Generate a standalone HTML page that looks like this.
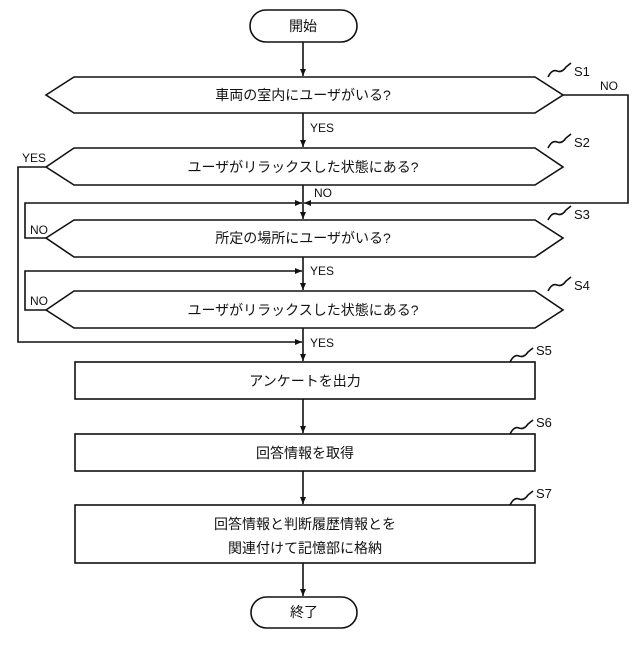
<!DOCTYPE html>
<html><head><meta charset="utf-8"><style>
html,body{margin:0;padding:0;background:#fff}
svg text{font-family:"Liberation Sans","Noto Sans CJK JP",sans-serif;fill:#111}
</style></head><body>
<svg width="640" height="640" viewBox="0 0 640 640" xmlns="http://www.w3.org/2000/svg">
<defs><marker id="a" markerWidth="8" markerHeight="8" refX="7" refY="4" orient="auto" markerUnits="userSpaceOnUse"><path d="M0,1 L7,4 L0,7 z" fill="#111"/></marker></defs>
<g fill="none" stroke="#111" stroke-width="1.6">
<rect x="250" y="10" width="107" height="32" rx="16"/>
<rect x="251" y="597" width="106" height="31" rx="15.5"/>
<polygon points="46,95 74,77 535,77 563,95 535,113 74,113" fill="#fff"/>
<polygon points="46,167 74,148 535,148 563,167 535,185 74,185" fill="#fff"/>
<polygon points="46,238 74,220 535,220 563,238 535,257 74,257" fill="#fff"/>
<polygon points="46,310 74,291 535,291 563,310 535,328 74,328" fill="#fff"/>
<rect x="75" y="362" width="460" height="37"/>
<rect x="75" y="434" width="460" height="37"/>
<rect x="75" y="505" width="460" height="58"/>
<line x1="303" y1="42" x2="303" y2="76" marker-end="url(#a)"/>
<line x1="303" y1="113" x2="303" y2="147" marker-end="url(#a)"/>
<line x1="303" y1="185" x2="303" y2="219" marker-end="url(#a)"/>
<line x1="303" y1="257" x2="303" y2="290" marker-end="url(#a)"/>
<line x1="303" y1="328" x2="303" y2="361" marker-end="url(#a)"/>
<line x1="303" y1="399" x2="303" y2="433" marker-end="url(#a)"/>
<line x1="303" y1="471" x2="303" y2="504" marker-end="url(#a)"/>
<line x1="303" y1="563" x2="303" y2="596" marker-end="url(#a)"/>
<polyline points="563,95 628,95 628,203 304,203" marker-end="url(#a)"/>
<polyline points="46,238 25,238 25,203 302,203" marker-end="url(#a)"/>
<polyline points="46,310 25,310 25,271 302,271" marker-end="url(#a)"/>
<polyline points="46,167 18,167 18,342 302,342" marker-end="url(#a)"/>
<path d="M548,77 q4,-8 9,-6 t9,-4 l5,-4"/>
<path d="M548,148 q4,-8 9,-6 t9,-4 l5,-4"/>
<path d="M548,220 q4,-8 9,-6 t9,-4 l5,-4"/>
<path d="M548,291 q4,-8 9,-6 t9,-4 l5,-4"/>
<path d="M510,362 q4,-8 9,-6 t9,-4 l5,-4"/>
<path d="M510,434 q4,-8 9,-6 t9,-4 l5,-4"/>
<path d="M510,505 q4,-8 9,-6 t9,-4 l5,-4"/>
</g>
<g font-size="14" text-anchor="middle">
<text x="303" y="31">開始</text>
<text x="304" y="617">終了</text>
<text x="303" y="100">車両の室内にユーザがいる?</text>
<text x="303" y="172">ユーザがリラックスした状態にある?</text>
<text x="303" y="243">所定の場所にユーザがいる?</text>
<text x="303" y="315">ユーザがリラックスした状態にある?</text>
<text x="305" y="386">アンケートを出力</text>
<text x="305" y="458">回答情報を取得</text>
<text x="305" y="529">回答情報と判断履歴情報とを</text>
<text x="305" y="553">関連付けて記憶部に格納</text>
</g>
<g font-size="13">
<text x="574" y="76">S1</text><text x="574" y="147">S2</text><text x="574" y="219">S3</text><text x="574" y="290">S4</text>
<text x="536" y="355">S5</text><text x="536" y="427">S6</text><text x="536" y="498">S7</text>
<text x="600" y="90" font-size="12">NO</text>
<text x="310" y="132" font-size="12">YES</text>
<text x="22" y="162" font-size="12">YES</text>
<text x="314" y="197" font-size="12">NO</text>
<text x="30" y="234" font-size="12">NO</text>
<text x="310" y="275" font-size="12">YES</text>
<text x="30" y="305" font-size="12">NO</text>
<text x="310" y="347" font-size="12">YES</text>
</g>
</svg>
</body></html>
